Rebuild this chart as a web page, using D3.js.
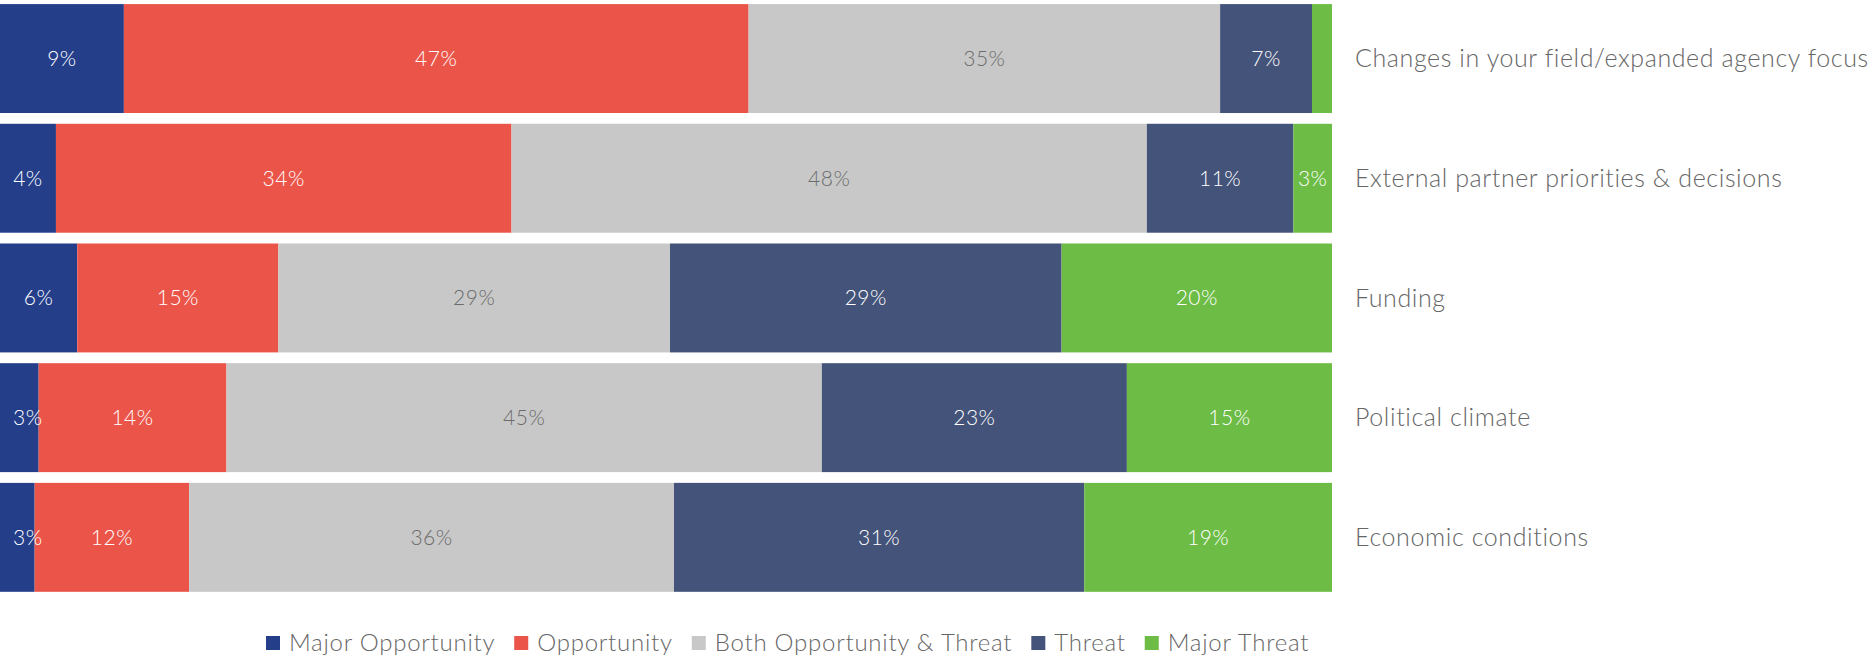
<!DOCTYPE html>
<html>
<head>
<meta charset="utf-8">
<script src="https://cdn.jsdelivr.net/npm/d3@7"></script>
<style>
  body { margin: 0; background: #fff; }
  text { font-family: Lato, "Open Sans", sans-serif; }
</style>
</head>
<body>
<script>
// categories and series values (percent)
var categories = ["Changes in your field/expanded agency focus", "External partner priorities & decisions",
  "Funding", "Political climate", "Economic conditions"]
var seriesNames = ["Major Opportunity", "Opportunity", "Both Opportunity & Threat", "Threat", "Major Threat"]
var majorOpportunity = [9.3, 4.2, 5.8, 2.9, 2.6]
var opportunity = [46.9, 34.2, 15.1, 14.1, 11.6]
var bothOppThreat = [35.4, 47.7, 29.4, 44.7, 36.4]
var threat = [6.9, 11.0, 29.4, 22.9, 30.8]
var majorThreat = [1.5, 2.9, 20.3, 15.4, 18.6]

var colors = ["#243e8a", "#eb5549", "#c8c8c8", "#44537a", "#6dbc45"]
var labelColors = ["#fff", "#fff", "#6b6b6b", "#fff", "#fff"]

let width = 1869
let height = 657
let barsWidth = 1332

// build rows for the stack
var allSeries = [majorOpportunity, opportunity, bothOppThreat, threat, majorThreat]
var rows = categories.map(function (c, i) {
  var r = { category: c }
  seriesNames.forEach(function (s, j) { r[s] = allSeries[j][i] })
  return r
})

var stack = d3.stack().keys(seriesNames)
var stacked = stack(rows)

var x = d3.scaleLinear().domain([0, 100]).range([0, barsWidth])
var y = d3.scaleBand().domain(categories).range([-1.3, 597.2])
  .paddingInner(0.09).paddingOuter(0.045)

let svg = d3.select("body").append("svg")
  .attr("width", width)
  .attr("height", height)

let groups = svg.selectAll("g.series")
  .data(stacked).enter()
  .append("g")
  .attr("class", "series")
  .style("fill", (d, i) => colors[i])

groups.selectAll("rect")
  .data(d => d).enter()
  .append("rect")
  .attr("x", d => x(d[0]))
  .attr("y", d => y(d.data.category))
  .attr("width", d => x(d[1]) - x(d[0]))
  .attr("height", y.bandwidth())

// value labels
stacked.forEach(function (s, i) {
  s.forEach(function (d) {
    var v = d[1] - d[0]
    if (v < 2) return
    var t = svg.append("text")
      .attr("y", y(d.data.category) + y.bandwidth() / 2)
      .attr("dy", "0.35em")
      .attr("text-anchor", "middle")
      .style("font-size", "21px")
      .style("font-weight", 300)
      .style("letter-spacing", "0.5px")
      .style("fill", labelColors[i])
      .text(Math.round(v) + "%")
    var w = t.node().getComputedTextLength()
    var cx = (x(d[0]) + x(d[1])) / 2
    if (cx - w / 2 < 13) cx = 13 + w / 2
    t.attr("x", cx)
  })
})

// category labels
svg.selectAll("text.cat")
  .data(categories).enter()
  .append("text")
  .attr("class", "cat")
  .attr("x", barsWidth + 23)
  .attr("y", d => y(d) + y.bandwidth() / 2)
  .attr("dy", "0.35em")
  .style("font-size", "25px")
  .style("font-weight", 300)
  .style("letter-spacing", "0.6px")
  .style("fill", "#666")
  .text(d => d)

// legend
let legend = svg.append("g").attr("transform", "translate(266,643)")
let lx = 0
seriesNames.forEach(function (s, i) {
  legend.append("rect")
    .attr("x", lx).attr("y", -7)
    .attr("width", 14).attr("height", 14)
    .style("fill", colors[i])
  let t = legend.append("text")
    .attr("x", lx + 23)
    .attr("dy", "0.35em")
    .style("font-size", "24px")
    .style("font-weight", 300)
    .style("letter-spacing", "0.75px")
    .style("fill", "#666")
    .text(s)
  lx += 23 + t.node().getComputedTextLength() + 19
})
</script>
</body>
</html>
